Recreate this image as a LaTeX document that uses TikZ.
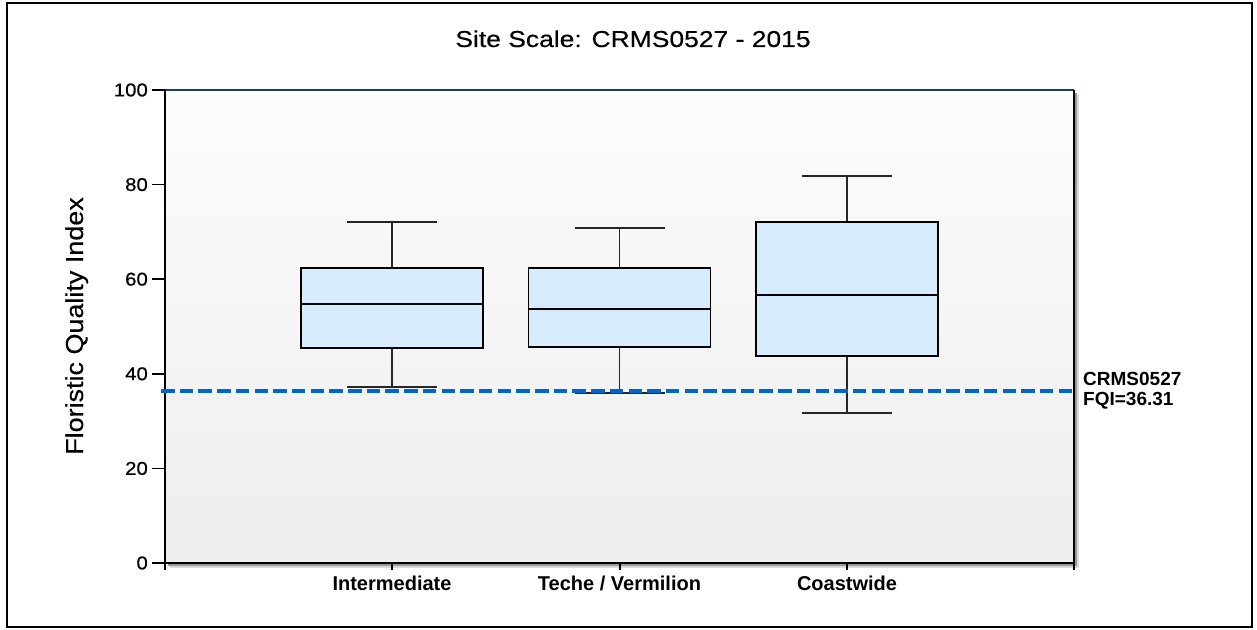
\documentclass[tikz,border=0pt]{standalone}
\usepackage{fontspec}
\setmainfont{Liberation Sans}
\newfontfamily\widefont[FakeStretch=1.1,FakeBold=0.4]{Liberation Sans}
\newfontfamily\titlefont[FakeStretch=1.15,FakeBold=0.4]{Liberation Sans}
\usetikzlibrary{positioning}

\definecolor{boxblue}{RGB}{214,236,252}
\definecolor{fqiblue}{RGB}{0,102,204}
\definecolor{topnavy}{RGB}{31,56,100}

\tikzset{
whisker/.style={line width=1.5pt,black!85},
boxbody/.style={draw=black,line width=1.6pt,fill=boxblue},
ticklab/.style={font=\widefont\fontsize{18.5}{18.5}\selectfont,anchor=east,inner sep=0pt},
catlab/.style={font=\bfseries\fontsize{20}{20}\selectfont,anchor=base,inner sep=0pt},
fqilab/.style={font=\bfseries\fontsize{19}{19}\selectfont,anchor=base west,inner sep=0pt}
}

\begin{document}
\begin{tikzpicture}[x=1pt,y=1pt]

\useasboundingbox (0,0) rectangle (1257,629);

% Cadre
\draw[line width=2pt] (7,2) rectangle (1252,626);

\node[font=\titlefont\fontsize{23}{23}\selectfont,anchor=base,inner sep=0pt]
(titre) at (633,582) {Site Scale: CRMS0527 - 2015};

% Zone du graphique
\fill[black!15] (170,61) rectangle (1079,534);
\fill[black!40] (168,63) rectangle (1077,536);
\shade[top color=white!99!black,bottom color=black!7]
(165,66) rectangle (1074,539);

\draw[topnavy,line width=1.5pt] (165,539) -- (1074,539);
\draw[line width=2pt] (165,539) -- (165,66) -- (1074,66) -- (1074,539);

\foreach \x in {165,392,620,847,1074}
{
\draw[line width=1.5pt] (\x,66) -- (\x,59);
}

\node[font=\widefont\fontsize{24.5}{24.5}\selectfont,rotate=90,anchor=base,inner sep=0pt]
(titrey) at (83,303) {Floristic Quality Index};

% Valeurs
\begin{scope}[yshift=66pt,y=4.73pt]

\foreach \v in {0,20,...,100}
{
\draw[line width=1.5pt] (152,\v) -- (165,\v);
\node[ticklab] (tick\v) at (148,\v) {\v};
}

\foreach \cx/\lo/\qa/\md/\qb/\hi/\nom in {
392/37.2/45.5/54.8/62.4/72.1/Intermediate,
619.5/35.9/45.7/53.7/62.4/70.8/{Teche / Vermilion},
847/31.7/43.8/56.7/72.1/81.8/Coastwide
}
{
\draw[whisker] (\cx,\qb) -- (\cx,\hi);
\draw[whisker] (\cx-45,\hi) -- (\cx+45,\hi);
\draw[whisker] (\cx,\lo) -- (\cx,\qa);
\draw[whisker] (\cx-45,\lo) -- (\cx+45,\lo);
\draw[boxbody] (\cx-91,\qa) rectangle (\cx+91,\qb);
\draw[line width=1.5pt] (\cx-91,\md) -- (\cx+91,\md);
\node[catlab] (cat\cx) at ([yshift=-27pt]\cx,0) {\nom};
}

% Seuil du site
\draw[fqiblue,line width=4pt,dash pattern=on 13.5pt off 5.2pt]
(161,36.31) -- (1074,36.31);

\end{scope}

\node[fqilab] (site) at (1083,243) {CRMS0527};
\node[fqilab] (fqi) at ([yshift=-20pt]site.base west) {FQI=36.31};

\end{tikzpicture}
\end{document}
